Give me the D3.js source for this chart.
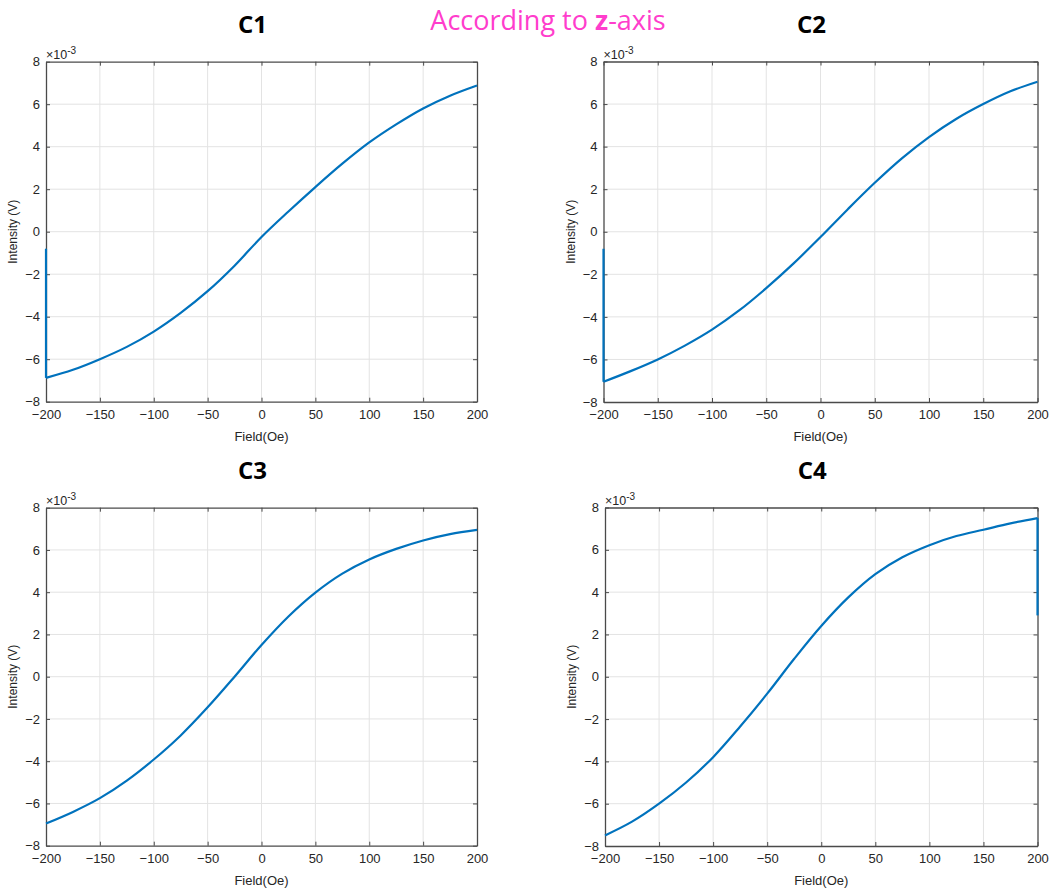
<!DOCTYPE html>
<html><head><meta charset="utf-8">
<script src="https://cdn.jsdelivr.net/npm/d3@7"></script>
<style>body{margin:0;background:#fff}svg{display:block}</style>
</head><body>
<svg id="chart" width="1055" height="891"></svg>
<script>
const fields = [-200,-175,-150,-125,-100,-75,-50,-25,0,25,50,75,100,125,150,175,200];
const c1Values = [-6.88,-6.5,-6.0,-5.42,-4.7,-3.82,-2.8,-1.6,-0.25,0.95,2.1,3.2,4.2,5.05,5.8,6.4,6.88];
const c2Values = [-7.05,-6.55,-6.0,-5.35,-4.6,-3.7,-2.65,-1.5,-0.25,1.05,2.3,3.45,4.45,5.3,6.0,6.6,7.05];
const c3Values = [-6.95,-6.4,-5.75,-4.92,-3.92,-2.78,-1.45,0.0,1.5,2.85,3.98,4.88,5.55,6.05,6.45,6.75,6.95];
const c4Values = [-7.5,-6.85,-6.0,-5.0,-3.8,-2.35,-0.8,0.85,2.4,3.75,4.85,5.65,6.22,6.65,6.95,7.25,7.5];
// vertical jumps at the sweep start/end (field, from, to) in 1e-3 V
const c1Spike = [-200, -6.88, -0.8];
const c2Spike = [-200, -7.05, -0.8];
const c4Spike = [200, 7.5, 2.9];
const xTicks = [-200,-150,-100,-50,0,50,100,150,200];
const yTicks = [-8,-6,-4,-2,0,2,4,6,8];
const titles = ["C1","C2","C3","C4"];

const panels = [
  {title:titles[0], vals:c1Values, spike:c1Spike, x0:46, x1:477, y0:61.7, y1:401.7},
  {title:titles[1], vals:c2Values, spike:c2Spike, x0:603.5, x1:1037.5, y0:61.5, y1:402},
  {title:titles[2], vals:c3Values, spike:null, x0:46, x1:477, y0:507.7, y1:845.7},
  {title:titles[3], vals:c4Values, spike:c4Spike, x0:605, x1:1037.5, y0:507.5, y1:846}
];

const svg = d3.select("#chart");
const font = "'Liberation Sans', Arial, sans-serif";
const axisCol = "#4a4a4a";
const textCol = "#262626";

panels.forEach(p => {
  const x = d3.scaleLinear().domain([-200,200]).range([p.x0,p.x1]);
  const y = d3.scaleLinear().domain([-8,8]).range([p.y1,p.y0]);
  const g = svg.append("g");
  g.selectAll(".gx").data(xTicks.slice(1,-1)).enter().append("line")
    .attr("x1",d=>x(d)).attr("x2",d=>x(d)).attr("y1",p.y0).attr("y2",p.y1)
    .attr("stroke","#e3e3e3").attr("stroke-width",1);
  g.selectAll(".gy").data(yTicks.slice(1,-1)).enter().append("line")
    .attr("y1",d=>y(d)).attr("y2",d=>y(d)).attr("x1",p.x0).attr("x2",p.x1)
    .attr("stroke","#e3e3e3").attr("stroke-width",1);
  const bottom = g.append("g").attr("transform",`translate(0,${p.y1})`)
    .call(d3.axisBottom(x).tickValues(xTicks).tickSizeInner(-4).tickSizeOuter(0).tickPadding(8));
  const top = g.append("g").attr("transform",`translate(0,${p.y0})`)
    .call(d3.axisTop(x).tickValues(xTicks).tickSizeInner(-4).tickSizeOuter(0).tickFormat(""));
  const left = g.append("g").attr("transform",`translate(${p.x0},0)`)
    .call(d3.axisLeft(y).tickValues(yTicks).tickSizeInner(-4).tickSizeOuter(0).tickPadding(6));
  const right = g.append("g").attr("transform",`translate(${p.x1},0)`)
    .call(d3.axisRight(y).tickValues(yTicks).tickSizeInner(-4).tickSizeOuter(0).tickFormat(""));
  [bottom,top,left,right].forEach(a=>{
    a.selectAll("path").attr("stroke",axisCol).attr("stroke-width",1.3);
    a.selectAll("line").attr("stroke",axisCol).attr("stroke-width",1);
    a.selectAll("text").attr("fill",textCol).style("font-family",font).style("font-size","13px");
  });
  const line = d3.line().x((d,i)=>x(fields[i])).y(d=>y(d)).curve(d3.curveCatmullRom.alpha(0.5));
  g.append("path").datum(p.vals).attr("d",line)
    .attr("fill","none").attr("stroke","#0072BD").attr("stroke-width",2.2);
  if (p.spike) {
    g.append("line").attr("x1",x(p.spike[0])).attr("x2",x(p.spike[0]))
      .attr("y1",y(p.spike[1])).attr("y2",y(p.spike[2]))
      .attr("stroke","#0072BD").attr("stroke-width",2.2);
  }
  const ex = g.append("text").attr("x",p.x0).attr("y",p.y0-3)
    .attr("fill",textCol).style("font-family",font).style("font-size","12.5px");
  ex.append("tspan").text("\u00d710");
  ex.append("tspan").attr("dy",-5).style("font-size","10px").text("-3");
  g.append("text").attr("x",(p.x0+p.x1)/2).attr("y",p.y1+39).attr("text-anchor","middle")
    .attr("fill",textCol).style("font-family",font).style("font-size","13px").text("Field(Oe)");
  g.append("text").attr("transform",`translate(${p.x0-29},${(p.y0+p.y1)/2}) rotate(-90)`)
    .attr("text-anchor","middle").attr("fill",textCol).style("font-family",font).style("font-size","12px")
    .text("Intensity (V)");
  g.append("text").attr("x",(p.x0+p.x1)/2-9).attr("y",p.y0-29).attr("text-anchor","middle")
    .attr("fill","#000").style("font-family","'Open Sans', 'Liberation Sans', sans-serif")
    .style("font-weight","bold").style("font-size","24px").text(p.title);
});

const head = svg.append("text").attr("x",548).attr("y",30).attr("text-anchor","middle")
  .attr("fill","#ff3dcc").style("font-family","'Open Sans', sans-serif").style("font-size","27px");
head.append("tspan").text("According to ");
head.append("tspan").style("font-weight","bold").text("z");
head.append("tspan").text("-axis");
</script>
</body></html>
